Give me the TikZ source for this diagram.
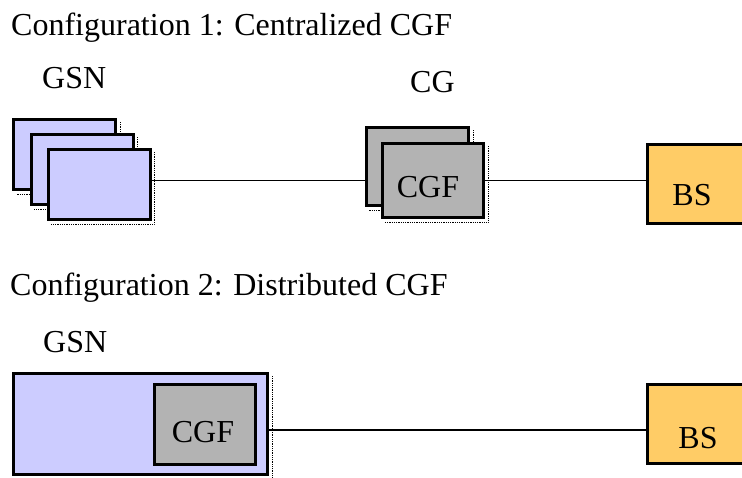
\documentclass[tikz,border=0pt]{standalone}
\usepackage{fontspec}
\setmainfont{Liberation Serif}
\definecolor{gsnblue}{HTML}{CCCCFF}
\definecolor{cggray}{HTML}{B3B3B3}
\definecolor{bsorange}{HTML}{FFCC66}

\begin{document}
\begin{tikzpicture}[x=1pt, y=-1pt,
	txt/.style={font=\fontsize{32}{38}\selectfont, inner sep=0pt},
	blk/.style={draw, line width=3pt, inner sep=0pt},
	dotshadow/.style={append after command={\pgfextra{
		\draw[densely dotted, line width=0.8pt] ([xshift=3pt,yshift=-4pt]\tikzlastnode.north east) -- ([xshift=3pt,yshift=-3pt]\tikzlastnode.south east) -- ([xshift=4pt,yshift=-3pt]\tikzlastnode.south west);}}},
	gsn/.style={blk, fill=gsnblue},
	cg/.style={blk, fill=cggray},
	bs/.style={blk, fill=bsorange},
	link/.style={line width=1.6pt}]
	\useasboundingbox (0,0) rectangle (742,477);
	
	% configuration 1
	\node[txt, anchor=base west] (title1) at (11,35) {Configuration 1: Centralized CGF};
	\node[txt, anchor=base west] (gsnlabel1) at (42,88) {GSN};
	\node[txt, anchor=base west] (cglabel) at (410,92) {CG};
	
	\node[gsn, dotshadow, minimum width=102, minimum height=70] (gsnA) at (64.5,154.5) {};
	\node[gsn, dotshadow, minimum width=102, minimum height=70] (gsnB) at (82,169.5) {};
	\node[gsn, dotshadow, minimum width=102, minimum height=70] (gsnC) at (99,184.5) {};
	
	\node[cg, dotshadow, minimum width=102, minimum height=78] (cgA) at (417.5,166.5) {};
	\node[cg, dotshadow, minimum width=101, minimum height=74] (cgB) at (433,180.5) {};
	\node[txt] (cgftext1) at (428,187) {CGF};
	
	\node[bs, minimum width=99, minimum height=79] (bs1) at (697,184) {};
	\node[txt] (bstext1) at (692,195) {BS};
	
	\draw[link] (gsnC.east |- cgB.center) -- (cgA.west |- cgB.center);
	\draw[link] (cgB.east) -- (cgB.east -| bs1.west);
	
	% configuration 2
	\node[txt, anchor=base west] (title2) at (10,295) {Configuration 2: Distributed CGF};
	\node[txt, anchor=base west] (gsnlabel2) at (43,352) {GSN};
	
	\node[gsn, dotshadow, minimum width=254, minimum height=101] (gsn2) at (140.5,424) {};
	\node[cg, minimum width=101, minimum height=80] (cgf2) at (205,424.5) {};
	\node[txt] (cgftext2) at (203,432) {CGF};
	
	\node[bs, minimum width=99, minimum height=79] (bs2) at (697,424) {};
	\node[txt] (bstext2) at (698,438) {BS};
	
	\draw[link] ([yshift=-6pt]gsn2.east) -- ([yshift=-6pt]bs2.west);
	
\end{tikzpicture}
\end{document}
